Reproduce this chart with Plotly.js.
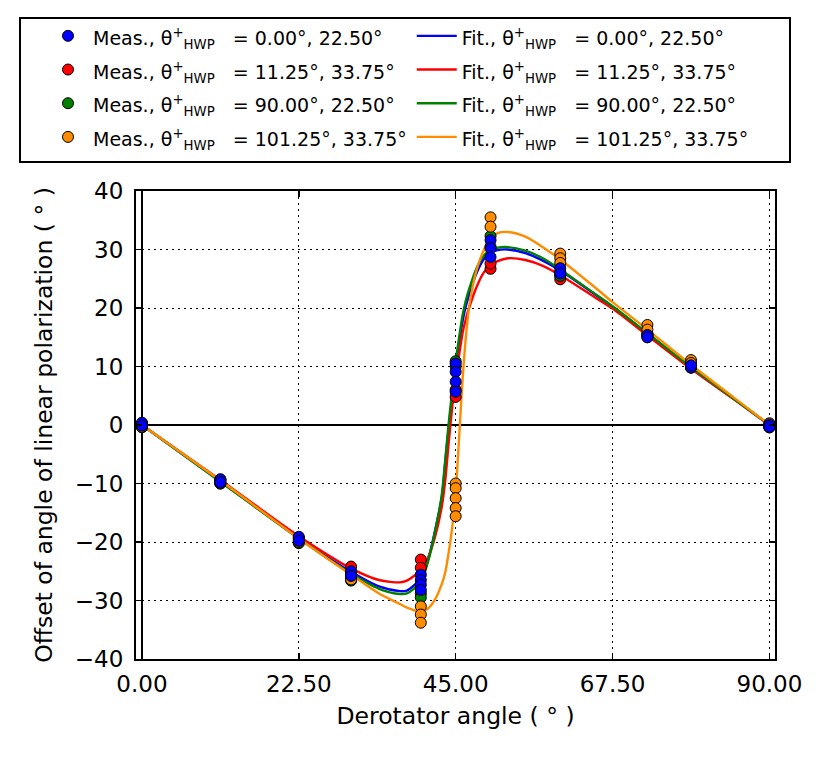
<!DOCTYPE html>
<html>
<head>
<meta charset="utf-8">
<script src="https://cdn.plot.ly/plotly-3.0.1.min.js"></script>
<style>
  html, body { margin: 0; padding: 0; background: #fff; }
  #plot { width: 831px; height: 764px; }
</style>
</head>
<body>
<div id="plot"></div>
<script>
// series order: blue, red, green, orange
const colors = ['#0000ff', '#ff0000', '#008000', '#ff8c00'];
const hwpFirst = ['0.00', '11.25', '90.00', '101.25'];
const hwpSecond = ['22.50', '33.75', '22.50', '33.75'];

// measured points
const blueMeasX = [0, 0, 11.25, 11.25, 22.5, 22.5, 30, 30, 40, 40, 40, 40, 45, 45, 45, 45, 50, 50, 50, 60, 60, 72.5, 72.5, 78.75, 78.75, 90, 90];
const blueMeasY = [0.4, -0.1, -9.3, -9.8, -19.1, -19.8, -25.0, -25.8, -25.6, -26.5, -27.3, -28.2, 10.5, 9.1, 7.4, 5.7, 31.6, 30.2, 28.7, 26.8, 25.9, 15.4, 15.0, 9.8, 10.2, 0.1, -0.3];

const redMeasX = [0, 0, 11.25, 11.25, 22.5, 22.5, 30, 30, 40, 40, 45, 45, 50, 50, 60, 60, 72.5, 72.5, 78.75, 78.75, 90, 90];
const redMeasY = [0.2, -0.3, -9.4, -10.0, -19.3, -20.0, -24.2, -26.0, -23.0, -24.4, 4.8, 6.0, 26.7, 27.6, 24.9, 25.6, 15.0, 15.5, 10.0, 10.5, 0.0, -0.4];

const greenMeasX = [0, 0, 11.25, 11.25, 22.5, 22.5, 30, 30, 40, 40, 45, 45, 50, 50, 60, 60, 72.5, 72.5, 78.75, 78.75, 90, 90];
const greenMeasY = [0.2, -0.4, -9.6, -10.0, -19.6, -20.2, -25.5, -26.6, -28.8, -29.5, 10.9, 10.0, 32.3, 30.5, 26.2, 25.5, 15.6, 15.2, 10.2, 9.8, 0.1, -0.4];

const orangeMeasX = [0, 0, 11.25, 11.25, 22.5, 22.5, 30, 30, 40, 40, 40, 45, 45, 45, 45, 45, 50, 50, 60, 60, 60, 72.5, 72.5, 78.75, 78.75, 90, 90];
const orangeMeasY = [0.2, -0.3, -9.3, -9.9, -19.4, -20.0, -25.2, -26.4, -31.0, -32.4, -33.8, -10.0, -10.8, -12.5, -14.2, -15.6, 35.5, 33.9, 29.3, 28.5, 27.7, 17.1, 16.3, 11.1, 10.6, 0.3, -0.3];

// fitted curves
const fitX = [0, 11.25, 22.5, 30, 34, 37, 38, 40, 41, 42, 43, 43.5, 44, 44.5, 45, 45.5, 46, 46.5, 47, 48, 49, 50, 51, 52.5, 55, 57.5, 60, 65, 67.5, 72.5, 78.75, 85, 90];
const blueFitY = [0, -9.6, -19.3, -25.1, -27.6, -28.4, -28.3, -26.2, -23.2, -18.3, -12.5, -6.5, -0.5, 4.8, 9.8, 14.0, 17.8, 20.5, 22.6, 26.0, 28.3, 29.4, 29.9, 30.0, 29.4, 28.1, 26.4, 22.3, 20.2, 15.6, 9.8, 4.4, 0];
const redFitY = [0, -9.4, -19.0, -24.5, -26.5, -26.9, -26.6, -24.8, -22.8, -19.3, -14.0, -9.5, -3.0, 3.0, 8.0, 12.0, 15.8, 18.3, 20.3, 23.6, 26.0, 27.3, 28.0, 28.5, 28.2, 27.2, 25.6, 21.8, 19.9, 15.3, 9.6, 4.3, 0];
const greenFitY = [0, -9.7, -19.4, -25.4, -28.0, -28.9, -28.8, -26.8, -23.5, -18.4, -12.0, -6.0, 0.3, 5.8, 10.8, 15.0, 18.8, 21.5, 23.5, 26.8, 28.9, 29.9, 30.3, 30.4, 29.8, 28.5, 26.6, 22.4, 20.3, 15.7, 9.9, 4.4, 0];
const orangeFitY = [0, -9.5, -19.4, -25.6, -28.8, -30.6, -31.2, -31.9, -31.4, -29.9, -27.2, -25.2, -21.8, -17.5, -11.5, -2.0, 8.0, 15.5, 20.8, 26.5, 29.8, 31.9, 32.8, 33.0, 32.2, 30.4, 28.3, 23.5, 21.0, 16.3, 10.3, 4.6, 0];

const xTickVals = [0, 22.5, 45, 67.5, 90];

const measX = [blueMeasX, redMeasX, greenMeasX, orangeMeasX];
const measY = [blueMeasY, redMeasY, greenMeasY, orangeMeasY];
const fitY = [blueFitY, redFitY, greenFitY, orangeFitY];

const label = (kind, i) =>
    `<span style="font-size:19px">${kind}, θ<sup>+</sup><sub>HWP</sub>\u00a0\u00a0\u00a0= ${hwpFirst[i]}°, ${hwpSecond[i]}°</span>`;

const data = [];

// fit lines first so the points sit on top
colors.forEach((c, i) => {
    data.push({
        x: fitX,
        y: fitY[i],
        type: 'scatter',
        mode: 'lines',
        name: label('Fit.', i),
        legendgroup: 'fit',
        legendrank: 10 + i,
        line: { color: c, width: 2.4, shape: 'spline', smoothing: 0.8 },
        hoverinfo: 'skip',
    });
});

// blue points last (drawn on top in the reference)
[1, 2, 3, 0].forEach((i) => {
    data.push({
        x: measX[i],
        y: measY[i],
        type: 'scatter',
        mode: 'markers',
        name: label('Meas.', i),
        legendgroup: 'meas',
        legendrank: i,
        marker: { color: colors[i], size: 11, line: { color: '#000', width: 1 } },
        cliponaxis: false,
    });
});

const axisCommon = {
    showline: true,
    linecolor: '#000',
    linewidth: 2,
    mirror: 'allticks',
    ticks: 'inside',
    ticklen: 6,
    tickwidth: 1.5,
    tickcolor: '#000',
    showgrid: true,
    gridcolor: '#000',
    gridwidth: 1,
    griddash: '2px,4px',
    zeroline: true,
    zerolinecolor: '#000',
    zerolinewidth: 2,
    tickfont: { family: 'DejaVu Sans', size: 23, color: '#000' },
};

// plot area: 136..775 px wide, 191..659 px tall
const toPx = (px) => (px - 136) / 639;
const toPy = (py) => (659 - py) / 468;

const layout = {
    width: 831,
    height: 764,
    margin: { l: 136, r: 56, t: 191, b: 105 },
    paper_bgcolor: '#fff',
    plot_bgcolor: '#fff',
    font: { family: 'DejaVu Sans', color: '#000' },
    showlegend: true,
    legend: {
        orientation: 'h',
        traceorder: 'grouped',
        tracegroupgap: 0,
        itemwidth: 40,
        x: toPx(43),
        y: toPy(14),
        xanchor: 'left',
        yanchor: 'top',
        bgcolor: 'rgba(0,0,0,0)',
        borderwidth: 0,
        font: { family: 'DejaVu Sans', size: 23.6, color: '#000' },
    },
    shapes: [{
        type: 'rect',
        xref: 'paper',
        yref: 'paper',
        x0: toPx(20),
        x1: toPx(790),
        y0: toPy(162),
        y1: toPy(18),
        line: { color: '#000', width: 2 },
        fillcolor: 'rgba(0,0,0,0)',
    }],
    xaxis: Object.assign({}, axisCommon, {
        range: [-0.85, 90.8],
        tickvals: xTickVals,
        ticktext: xTickVals.map((v) => v.toFixed(2)),
        ticklabelstandoff: 3,
        title: { text: 'Derotator angle ( ° )', font: { family: 'DejaVu Sans', size: 23.5 }, standoff: 12 },
    }),
    yaxis: Object.assign({}, axisCommon, {
        range: [-40, 40],
        dtick: 10,
        ticklabelstandoff: 6,
        title: { text: 'Offset of angle of linear polarization ( ° )', font: { family: 'DejaVu Sans', size: 23.5 }, standoff: 16 },
    }),
};

Plotly.newPlot('plot', data, layout, { displayModeBar: false, staticPlot: true });
</script>
</body>
</html>
